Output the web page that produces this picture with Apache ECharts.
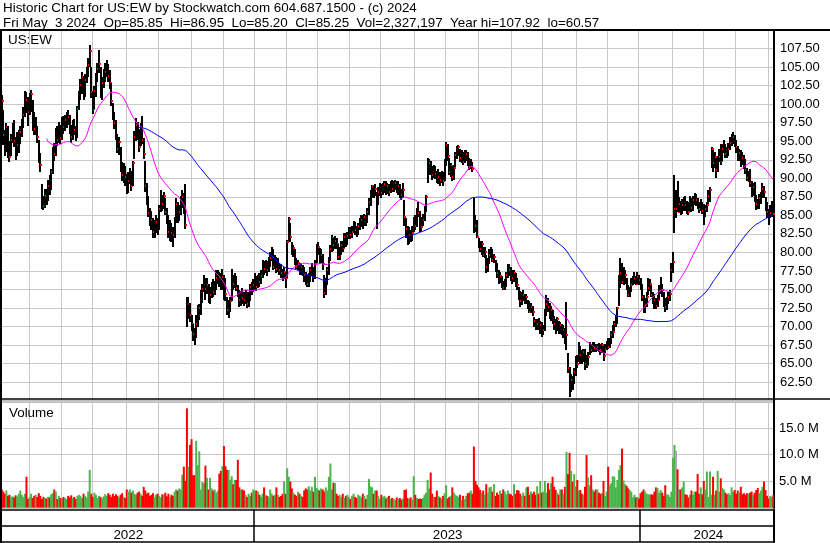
<!DOCTYPE html>
<html><head><meta charset="utf-8">
<script src="https://cdn.jsdelivr.net/npm/echarts@6/dist/echarts.min.js"></script>
<style>html,body{margin:0;padding:0;background:#fff}#c{width:830px;height:543px}</style>
</head><body><div id="c"></div>
<script>
// Daily bars, May 2022 .. May 3 2024 (index = trading day)
const closes = [
100.4,95.8,93.8,96.9,94.4,92.9,95.2,96.5,95.0,93.7,
94.5,95.8,96.3,97.2,98.6,101.2,100.6,99.0,101.0,101.4,
98.4,96.6,96.9,95.6,93.0,91.8,86.6,86.2,87.6,87.4,
89.0,88.5,90.8,93.6,93.3,96.0,95.2,96.8,95.4,97.8,
96.9,97.8,98.5,98.3,96.7,95.6,97.4,96.5,95.6,99.4,
101.2,102.6,103.7,101.8,103.2,104.4,105.3,107.2,101.6,99.3,
101.8,103.5,104.8,105.4,101.4,102.8,103.9,104.4,105.2,103.8,
102.8,100.4,98.5,97.4,95.8,94.0,94.9,91.3,90.4,91.2,
90.2,88.9,89.6,90.8,89.0,92.0,95.6,97.2,96.4,94.2,
96.8,95.1,93.3,88.9,87.0,85.3,84.8,84.4,82.8,83.4,
84.1,83.2,85.8,87.3,86.6,87.6,85.5,84.6,82.8,83.6,
82.6,82.3,84.4,86.6,84.8,85.5,86.8,87.5,86.0,83.7,
72.4,73.0,71.5,70.4,69.0,68.6,70.4,71.2,72.5,74.0,
75.1,76.4,75.1,75.6,73.6,74.2,75.0,74.6,75.8,76.5,
77.2,76.7,75.6,76.7,76.0,74.4,72.2,72.7,73.4,76.0,
75.8,76.6,75.2,74.5,73.6,74.2,73.8,73.6,74.2,73.1,
73.9,75.4,74.8,75.6,76.3,75.4,76.6,76.0,76.8,78.3,
77.8,78.6,77.6,78.6,79.2,80.2,78.1,79.0,77.8,78.3,
77.6,77.2,76.7,77.4,76.6,81.4,84.5,82.1,80.1,80.6,
79.0,78.1,78.6,77.4,78.0,77.8,77.0,76.3,75.8,76.6,
77.6,77.9,76.7,78.4,80.3,80.8,79.0,79.6,78.4,74.5,
76.0,77.6,79.0,80.4,81.9,81.0,81.6,81.2,79.4,80.0,
81.0,80.6,82.1,81.4,82.2,83.0,82.4,82.8,83.9,83.0,
82.8,83.6,84.0,84.4,84.1,84.8,84.2,85.5,86.8,88.0,
88.9,88.0,88.6,86.6,88.2,88.8,88.0,88.6,89.2,88.4,
88.9,88.2,89.0,88.6,88.9,89.4,88.6,88.9,87.9,87.7,
88.4,84.8,83.2,82.1,82.4,82.1,82.6,84.4,83.6,85.7,
85.3,84.4,83.4,84.4,85.7,87.5,91.3,92.0,91.0,90.4,
91.1,90.6,90.0,90.2,89.8,90.6,89.6,92.0,94.5,93.0,
90.9,91.6,90.2,91.4,93.1,93.6,94.2,92.7,93.2,92.2,
92.7,93.3,92.4,91.5,92.0,91.3,83.7,83.5,82.1,81.0,
80.5,81.2,79.6,80.0,78.1,78.7,79.6,80.3,79.0,79.4,
78.2,77.2,76.1,76.8,75.8,75.2,75.8,77.0,78.1,77.6,
76.8,76.5,77.2,76.1,75.6,74.3,73.4,74.2,74.3,73.4,
74.0,73.2,72.0,72.6,72.0,70.8,69.8,70.4,70.0,70.2,
69.1,69.6,71.8,73.1,72.7,71.6,72.2,70.8,70.4,70.0,
71.0,69.5,70.2,69.1,69.6,68.4,68.8,64.4,61.9,62.8,
62.4,63.9,65.5,65.0,67.1,66.2,65.7,66.6,65.0,64.8,
65.9,67.1,66.8,67.4,67.1,66.8,67.3,67.0,66.8,67.5,
66.0,67.0,67.5,67.3,68.0,68.9,69.3,70.4,71.2,72.5,
76.3,77.2,76.0,76.3,77.0,75.2,74.2,74.9,75.6,76.3,
76.5,75.8,76.7,76.3,75.6,74.0,72.4,72.9,74.0,75.2,
75.8,74.2,74.0,73.6,72.8,73.6,74.8,75.2,74.9,73.6,
72.7,73.6,74.0,74.4,77.6,78.7,85.9,85.9,85.5,86.6,
85.3,86.4,87.0,86.4,86.2,85.5,86.8,86.0,87.1,87.7,
87.1,86.2,85.9,86.6,85.6,85.3,85.9,86.4,87.6,88.4,
94.0,92.0,92.9,91.1,92.4,92.9,92.4,94.0,94.2,93.3,
93.1,94.0,94.8,95.4,95.6,94.8,94.2,92.9,93.4,92.9,
92.7,92.0,91.1,90.0,90.6,89.3,88.2,88.8,87.3,86.6,
86.2,87.3,87.6,88.6,88.2,86.4,85.5,84.8,85.3,85.9,
85.25];
const highs = [
101.2,99.2,96.5,97.4,97.0,95.0,96.0,97.5,97.8,95.6,
96.2,96.5,97.0,98.0,99.6,101.8,101.6,101.0,101.5,101.9,
100.5,99.0,98.2,97.0,95.1,93.4,89.2,87.6,88.5,88.6,
89.8,90.5,91.2,94.2,94.8,96.8,97.0,97.6,97.2,98.2,
98.4,98.6,99.0,99.2,98.6,97.2,97.9,98.0,97.0,99.8,
101.8,103.4,104.3,103.8,104.0,105.0,106.2,107.92,105.0,101.8,
102.4,104.2,105.6,107.3,105.0,103.6,104.8,105.6,106.0,105.4,
104.6,102.8,100.2,99.0,97.8,96.0,95.6,94.2,92.2,92.0,
91.6,90.6,90.8,91.4,91.0,92.4,96.4,98.1,97.6,96.6,
97.4,98.4,95.4,92.4,89.4,87.6,86.0,85.6,84.6,84.4,
85.0,84.6,86.4,88.4,87.8,88.2,87.4,86.0,85.0,84.4,
84.0,83.4,84.8,87.4,86.8,86.4,87.6,88.4,88.0,89.2,
74.0,74.0,73.2,71.6,70.4,69.8,71.6,72.9,73.0,75.0,
75.8,76.9,76.6,76.6,75.8,75.4,76.0,76.4,76.2,77.6,
77.6,77.4,77.2,77.8,77.0,76.6,74.0,73.6,74.0,77.8,
77.0,77.2,76.8,75.6,75.0,74.8,75.2,74.6,75.0,74.6,
74.6,75.8,76.0,76.4,77.2,76.8,77.0,77.2,77.6,79.0,
78.8,79.0,78.8,79.4,80.0,80.8,80.4,79.6,79.4,79.2,
78.6,78.4,77.8,78.0,77.4,81.7,84.8,84.0,81.4,81.0,
80.4,79.2,79.0,78.6,78.6,78.3,78.0,77.4,77.0,77.2,
78.0,78.6,78.0,79.0,81.2,81.4,80.6,80.4,79.8,77.0,
76.6,78.0,79.4,81.0,82.3,82.0,82.2,82.0,81.2,80.8,
81.6,81.6,82.6,82.6,82.8,83.4,83.4,83.6,84.2,84.1,
83.6,84.0,84.6,85.0,85.0,85.2,85.0,86.0,87.4,88.4,
89.1,89.0,89.2,88.2,88.8,89.4,89.2,89.3,89.6,89.6,
89.4,89.2,89.6,89.8,89.6,89.8,89.6,89.6,89.2,88.6,
89.4,87.1,84.6,83.5,83.4,83.0,83.5,84.8,85.0,86.0,
86.8,85.6,84.8,85.2,86.2,87.7,92.7,92.6,92.4,91.6,
91.8,91.6,91.0,91.2,90.8,91.0,90.8,92.6,94.9,94.6,
92.8,92.0,91.6,91.8,93.6,94.4,94.5,94.0,93.8,93.6,
93.8,93.8,93.6,92.8,92.6,92.2,87.3,85.0,84.4,82.0,
81.6,81.6,80.8,80.8,79.6,79.2,80.4,80.8,80.4,79.8,
79.0,78.6,77.6,77.4,76.8,76.2,76.4,77.4,78.5,78.4,
78.0,77.6,77.6,77.2,76.6,75.4,74.8,74.6,74.9,74.4,
74.4,73.6,73.4,73.2,72.8,71.3,71.0,71.0,71.2,70.8,
70.6,70.2,72.4,74.25,73.8,73.2,72.8,72.2,71.4,71.0,
71.3,70.8,70.6,70.4,70.2,69.8,73.3,66.4,64.6,63.6,
63.4,64.4,66.0,66.2,67.96,67.4,66.8,67.0,67.0,66.2,
66.6,67.9,67.6,67.9,67.9,67.6,67.7,67.8,67.6,67.8,
67.4,67.6,68.0,68.4,68.4,69.4,70.2,70.8,71.6,72.7,
77.0,79.2,78.6,78.0,77.6,76.6,75.6,75.4,76.5,76.8,
77.4,76.8,77.4,77.0,76.5,75.8,74.2,73.8,74.6,76.5,
76.4,75.6,74.6,74.4,73.8,74.2,75.6,76.7,75.8,74.6,
73.8,74.0,74.6,75.0,78.6,80.1,90.4,88.4,89.6,87.5,
87.0,87.2,87.5,87.6,87.0,86.8,87.6,87.4,87.6,88.0,
87.9,87.4,86.8,87.2,86.8,86.6,86.4,86.8,88.4,88.8,
94.2,93.8,93.6,92.8,93.0,94.0,94.6,94.6,95.1,94.6,
94.2,94.8,95.6,96.0,96.3,95.8,95.2,94.4,94.0,93.8,
93.6,93.2,92.6,91.4,91.0,91.3,89.6,89.4,89.5,87.8,
87.2,87.9,88.2,89.3,89.0,87.5,86.8,85.8,86.4,87.0,
86.95];
const lows = [
99.0,94.5,93.0,93.5,92.8,92.2,93.0,94.8,94.2,92.5,
93.0,93.4,94.6,95.6,96.8,98.2,98.8,97.0,98.5,99.0,
96.4,95.8,95.9,94.8,92.0,90.8,85.8,85.7,86.0,86.4,
87.0,87.8,88.4,90.6,92.4,93.0,94.4,94.8,94.6,95.2,
96.0,96.4,96.8,97.2,96.0,94.8,95.2,95.8,95.0,95.4,
99.2,100.6,101.4,100.6,101.0,102.8,103.7,105.0,100.8,98.7,
99.4,101.0,103.0,104.2,100.8,100.5,102.2,103.0,103.6,103.0,
102.0,99.8,97.8,96.6,95.2,93.4,93.2,90.8,89.6,89.4,
89.0,87.9,88.0,89.2,88.3,89.0,92.6,95.0,95.2,93.6,
94.4,94.6,92.6,88.2,86.4,84.8,83.6,83.0,81.9,82.0,
82.6,82.4,83.0,85.4,85.6,85.8,85.0,83.8,82.0,81.6,
81.4,80.8,82.0,84.0,84.0,84.2,85.0,86.0,85.2,83.2,
70.0,71.0,70.6,69.4,68.0,67.5,68.4,70.0,70.9,71.6,
73.2,74.6,73.6,74.4,73.2,73.0,73.8,74.0,74.2,75.0,
75.8,75.4,74.9,75.0,73.6,73.4,71.6,71.1,72.0,73.4,
75.0,75.2,74.8,74.0,72.6,72.8,73.0,72.8,73.0,72.5,
72.6,73.4,74.2,74.6,75.0,74.8,75.2,75.4,75.8,76.6,
77.0,77.2,76.8,77.4,78.0,78.8,77.6,77.8,77.2,77.4,
77.0,76.6,76.2,76.4,75.2,76.6,81.6,81.4,79.6,79.4,
78.3,77.8,77.6,77.0,76.9,76.8,76.0,75.6,75.4,75.4,
76.0,76.8,76.0,76.4,78.6,79.6,78.5,78.6,77.6,73.8,
74.2,75.6,77.0,78.8,80.0,80.2,80.4,80.4,79.0,79.0,
79.6,80.0,80.6,80.8,81.0,81.8,81.8,82.0,82.6,82.4,
82.1,82.4,83.0,83.4,83.2,83.6,83.6,84.0,85.0,86.2,
87.4,87.4,87.6,83.2,86.4,87.6,87.4,87.8,88.0,87.8,
87.9,87.6,88.0,88.2,88.2,88.4,88.0,87.8,87.4,87.1,
87.4,83.5,82.0,81.0,81.2,81.4,81.6,82.8,83.0,83.4,
84.8,82.8,82.8,83.6,84.2,85.4,89.3,90.4,90.4,89.8,
90.0,89.9,89.4,89.2,88.9,89.4,89.0,89.6,91.6,92.4,
90.4,90.2,89.6,89.8,91.5,92.6,93.0,92.2,92.0,91.8,
92.0,92.4,91.6,91.1,91.2,90.8,82.6,82.8,81.9,80.6,
80.0,79.6,79.4,79.2,77.2,77.4,78.4,79.2,78.7,78.6,
77.4,76.6,75.8,75.9,75.2,74.9,74.9,75.4,76.6,76.8,
76.2,75.8,76.0,75.4,75.0,73.6,72.7,72.9,73.4,73.0,
73.1,72.4,71.8,71.8,71.4,70.0,69.5,69.6,69.5,69.0,
68.6,68.8,69.4,71.4,72.0,71.0,70.8,70.4,69.6,69.0,
69.4,69.0,69.0,68.8,68.4,67.7,66.8,63.8,60.57,61.2,
61.4,62.2,63.4,64.4,65.2,65.0,65.0,65.2,64.1,64.4,
64.8,66.2,66.4,66.6,66.6,66.6,66.7,66.6,66.2,66.4,
65.3,66.4,66.8,67.0,67.1,67.6,68.4,69.4,69.9,70.4,
72.8,75.2,75.8,75.6,75.8,75.0,74.0,74.0,74.6,75.6,
75.8,75.6,75.8,75.6,75.0,73.4,71.8,71.9,72.6,74.2,
74.8,74.0,73.0,72.4,72.4,72.6,73.6,74.4,74.0,72.6,
72.0,72.2,73.0,73.4,76.0,77.2,82.6,84.6,85.4,85.4,
85.0,85.2,85.6,85.6,85.2,85.0,85.6,85.4,85.6,86.4,
86.2,85.8,85.3,85.6,85.2,83.7,84.8,85.4,86.6,86.8,
91.4,90.9,91.4,90.0,90.8,92.2,91.8,92.4,93.4,92.7,
92.7,93.0,93.8,94.4,94.6,94.2,93.4,92.4,92.4,91.5,
91.8,91.2,90.6,89.6,89.5,88.8,87.5,87.6,86.8,85.7,
85.9,85.9,86.6,87.4,87.3,85.6,84.6,83.7,84.6,84.8,
85.2];
// volume in millions
const volumes = [
3.4,3.0,2.6,3.2,2.2,2.4,2.0,2.1,1.9,2.3,
2.1,2.6,3.2,2.4,2.0,2.6,5.8,1.6,2.0,2.6,
1.8,2.2,2.4,2.0,2.7,2.2,1.6,2.0,1.8,1.7,
2.0,1.9,2.5,2.7,3.4,3.0,1.6,2.2,1.8,1.7,
2.0,1.8,1.6,2.2,1.9,2.3,1.8,2.0,1.6,2.2,
2.4,2.2,1.8,2.6,2.2,1.9,3.0,7.1,2.6,2.0,
2.8,2.4,1.8,2.2,2.0,1.7,2.1,2.5,2.2,2.7,
2.4,2.0,2.6,2.2,2.5,2.2,1.9,2.4,2.7,2.0,
1.8,3.4,3.0,3.4,2.8,3.2,2.6,2.4,2.8,3.0,
2.6,2.2,3.9,3.2,2.6,2.8,2.2,2.4,2.7,2.0,
2.4,2.6,2.2,1.9,2.5,2.4,2.8,2.1,2.6,2.0,
2.4,2.2,3.0,3.4,3.2,3.6,3.4,6.2,7.7,5.0,
18.7,7.7,11.8,12.9,6.1,6.1,12.6,8.0,10.6,3.4,
4.8,4.6,7.9,5.6,3.4,5.6,3.6,3.2,3.4,2.8,
3.2,6.4,6.9,7.8,11.6,7.8,7.1,7.1,5.2,5.9,
4.4,5.2,5.2,9.0,3.8,3.4,3.4,3.2,2.4,2.0,
2.6,2.2,2.8,3.4,3.2,3.2,3.0,2.4,2.0,2.6,
3.8,2.4,2.2,2.0,3.4,2.6,2.2,2.4,3.8,2.4,
2.0,2.2,2.6,4.9,2.6,7.4,5.8,4.9,3.6,2.8,
2.4,2.2,3.0,2.6,2.2,2.0,3.2,3.6,3.4,4.0,
3.2,3.9,3.0,5.8,3.7,3.4,3.2,3.6,3.4,3.0,
3.8,3.2,5.8,8.3,3.4,4.7,4.6,2.6,2.2,2.4,
2.0,2.6,1.8,2.2,2.4,2.0,1.6,2.2,2.6,2.0,
1.8,2.4,2.2,1.9,2.6,2.2,1.6,2.4,5.4,4.0,
3.8,2.6,3.2,3.2,2.2,1.6,2.4,2.0,2.2,1.7,
2.0,2.2,1.6,1.8,1.6,1.4,1.9,1.6,1.8,1.5,
1.7,3.3,3.4,1.8,1.6,1.9,1.5,5.9,2.4,1.8,
1.6,1.7,1.6,1.8,2.4,2.8,5.2,3.6,6.6,2.6,
2.0,2.0,3.2,2.2,1.9,1.7,2.2,2.7,4.2,1.7,
2.0,2.2,3.8,2.8,2.4,2.2,2.0,2.4,1.4,2.2,
1.6,2.2,2.7,2.8,3.2,2.6,11.5,5.0,4.3,3.8,
3.3,2.8,3.2,2.4,4.4,2.8,3.8,3.9,3.0,4.4,
2.2,2.8,2.4,3.2,2.6,3.4,3.0,2.5,3.2,2.6,
2.5,2.2,4.4,2.6,3.3,3.2,2.6,2.2,2.8,2.2,
3.8,3.9,2.4,3.0,2.6,3.0,2.4,4.0,2.6,5.0,
2.8,3.0,5.0,2.8,4.6,3.4,4.6,5.8,3.9,3.3,
2.8,2.4,3.4,3.4,2.6,3.9,10.5,6.3,10.3,6.9,
4.9,6.3,4.0,5.2,3.2,3.3,2.6,2.4,3.9,9.9,
5.7,4.2,6.1,3.4,3.0,3.4,3.4,2.8,2.6,2.7,
5.0,2.2,3.0,7.7,4.2,4.6,5.9,5.8,3.8,5.2,
7.1,8.0,11.1,5.1,4.4,4.1,3.6,3.3,3.0,1.9,
2.4,1.9,2.0,1.7,2.7,3.0,3.4,3.0,2.6,2.5,
2.4,2.5,2.4,3.0,3.8,3.7,2.8,3.3,2.8,2.2,
4.2,2.5,2.4,2.0,3.0,9.4,11.8,10.7,7.2,3.4,
3.4,3.8,4.9,2.5,2.4,1.9,2.4,3.2,2.4,3.0,
3.0,6.3,2.6,3.8,2.5,5.0,3.4,6.8,2.0,6.8,
2.4,5.8,2.4,3.2,6.9,3.0,5.5,3.7,3.4,2.8,
2.5,2.7,2.4,3.8,3.0,3.3,2.6,3.2,2.8,3.9,
2.5,2.7,2.4,2.7,2.6,2.8,3.0,2.4,2.8,3.3,
3.7,2.7,3.2,3.9,4.9,3.3,2.2,1.7,2.2,2.0,
2.33];
const monthStarts = [18,39,59,81,102,123,144,164,185,205,226,246,268,288,309,331,351,373,393,413,435,455,476,497];
const yearStarts = [0,164,414];
const yearLabels = ['2022','2023','2024'];
const maShort = 30, maLong = 90;
const headerLine1 = 'Historic Chart for US:EW by Stockwatch.com 604.687.1500 - (c) 2024';
const headerLine2 = 'Fri May  3 2024  Op=85.85  Hi=86.95  Lo=85.20  Cl=85.25  Vol=2,327,197  Year hi=107.92  lo=60.57';

const N = closes.length;
const idx = closes.map((_, i) => i);
const monthSet = new Set(monthStarts);
const yearSet = new Set(yearStarts.slice(1));
const yearMid = yearStarts.map((s, k) => Math.round((s + (k + 1 < yearStarts.length ? yearStarts[k + 1] : N)) / 2));
function sma(arr, n) {
  return arr.map((_, i) => {
    if (i < n - 1) return '-';
    let s = 0; for (let j = i - n + 1; j <= i; j++) s += arr[j];
    return +(s / n).toFixed(3);
  });
}
const RED = '#ff0000', GREEN = '#4db34d', GRAY = '#a9a9a9', GRID = '#c8c8c8';
const FONT = '"Liberation Sans", Arial, sans-serif';
const volData = volumes.map((v, i) => {
  let c = RED;
  if (i > 0) c = closes[i] > closes[i - 1] ? GREEN : (closes[i] < closes[i - 1] ? RED : GRAY);
  return { value: v, itemStyle: { color: c } };
});

const chart = echarts.init(document.getElementById('c'));
const catAxis = (g) => ({
  gridIndex: g, type: 'category', data: idx, boundaryGap: true,
  axisLine: { show: false }, axisTick: { show: false }, axisLabel: { show: false },
  splitLine: { show: true, interval: (i) => monthSet.has(i), lineStyle: { color: GRID, width: 1 } }
});
const txt = (t, x, y) => ({ type: 'text', x: x, y: y, z: 100, style: { text: t, font: '13.4px ' + FONT, fill: '#000', verticalAlign: 'middle' } });
const graphics = [
  txt(headerLine1, 3, 8.5),
  txt(headerLine2, 3, 23),
  txt('US:EW', 8, 40.5),
  txt('Volume', 9, 413.5),
  { type: 'line', z: 100, shape: { x1: 0, y1: 30, x2: 830, y2: 30 }, style: { stroke: '#000', lineWidth: 2 } },
  { type: 'line', z: 100, shape: { x1: 0, y1: 399, x2: 830, y2: 399 }, style: { stroke: '#000', lineWidth: 1.5 } },
  { type: 'line', z: 100, shape: { x1: 1, y1: 30, x2: 1, y2: 543 }, style: { stroke: '#000', lineWidth: 2 } }
];
chart.setOption({
  animation: false,
  backgroundColor: '#fff',
  graphic: graphics,
  grid: [
    { left: 1, top: 30, width: 773, height: 370.75 },
    { left: 1, top: 401.5, width: 773, height: 106, show: true, borderColor: '#000', borderWidth: 1.5 },
    { left: 1, top: 509.5, width: 773, height: 32.5 }
  ],
  xAxis: [
    catAxis(0), catAxis(1),
    {
      gridIndex: 2, type: 'category', data: idx, boundaryGap: true,
      axisLine: { show: false }, axisTick: { show: false },
      axisLabel: { show: true, inside: true, margin: 7, verticalAlign: 'middle', interval: (i) => yearMid.includes(i),
        formatter: (v, i) => yearLabels[yearMid.indexOf(i)] || '', color: '#000', fontFamily: FONT, fontSize: 13.4 },
      splitLine: { show: true, interval: (i) => yearSet.has(i), lineStyle: { color: '#000', width: 1.5 } }
    }
  ],
  yAxis: [
    { gridIndex: 0, type: 'value', position: 'right', min: 60, max: 110, interval: 2.5,
      axisLine: { show: true, lineStyle: { color: '#000', width: 2 } }, axisTick: { show: false },
      axisLabel: { formatter: (v) => v.toFixed(2), showMinLabel: false, showMaxLabel: false, color: '#000', fontFamily: FONT, fontSize: 13, margin: 6 },
      splitLine: { lineStyle: { color: GRID, width: 1 } } },
    { gridIndex: 1, type: 'value', position: 'right', min: 0, max: 20, interval: 5,
      axisLine: { show: true, lineStyle: { color: '#000', width: 2 } }, axisTick: { show: false },
      axisLabel: { formatter: (v) => v.toFixed(1) + ' M', showMinLabel: false, showMaxLabel: false, color: '#000', fontFamily: FONT, fontSize: 13, margin: 5 },
      splitLine: { lineStyle: { color: GRID, width: 1 } } },
    { gridIndex: 2, type: 'value', position: 'right', min: 0, max: 2, interval: 1,
      axisLine: { show: true, lineStyle: { color: '#000', width: 2 } }, axisTick: { show: false }, axisLabel: { show: false },
      splitLine: { lineStyle: { color: '#000', width: 1.5 } } }
  ],
  series: [
    {
      type: 'custom', xAxisIndex: 0, yAxisIndex: 0, z: 3,
      data: closes.map((c, i) => [i, highs[i], lows[i], c]),
      encode: { x: 0, y: [1, 2, 3] },
      renderItem: (params, api) => {
        const i = api.value(0);
        const pH = api.coord([i, api.value(1)]);
        const pL = api.coord([i, api.value(2)]);
        const pC = api.coord([i, api.value(3)]);
        const x = Math.round(pH[0]);
        const yH = Math.round(pH[1]), yL = Math.round(pL[1]);
        return { type: 'group', children: [
          { type: 'rect', shape: { x: x - 1, y: yH, width: 2, height: Math.max(1, yL - yH) }, style: { fill: '#000' } },
          { type: 'rect', shape: { x: x, y: Math.round(pC[1]) - 1, width: 2, height: 2 }, style: { fill: RED } }
        ] };
      }
    },
    { type: 'line', xAxisIndex: 0, yAxisIndex: 0, z: 4, data: sma(closes, maShort), showSymbol: false, symbol: 'none',
      lineStyle: { color: '#ff00ff', width: 1 }, connectNulls: false },
    { type: 'line', xAxisIndex: 0, yAxisIndex: 0, z: 4, data: sma(closes, maLong), showSymbol: false, symbol: 'none',
      lineStyle: { color: '#0000ff', width: 1 }, connectNulls: false },
    { type: 'bar', xAxisIndex: 1, yAxisIndex: 1, barWidth: 2, data: volData }
  ]
});
</script></body></html>
